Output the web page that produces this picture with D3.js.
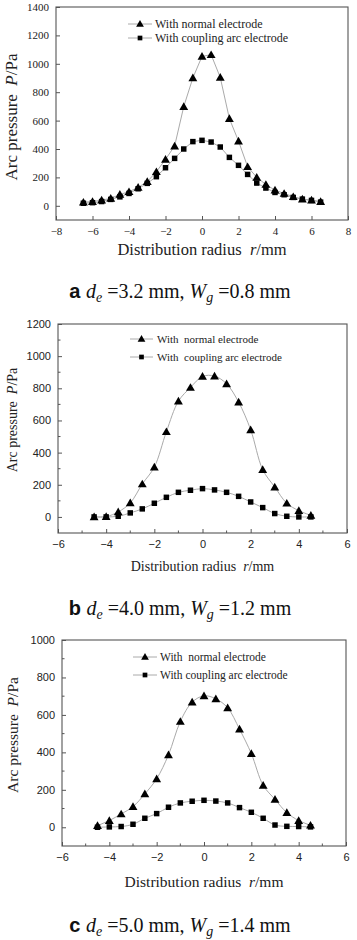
<!DOCTYPE html>
<html><head><meta charset="utf-8">
<script src="https://cdn.jsdelivr.net/npm/d3@7"></script>
<style>body{margin:0;background:#fff}svg{display:block}</style>
</head><body>
<svg id="c" width="357" height="940"></svg>
<script>
// ---- data ----
const radiusA = [-6.5,-6,-5.5,-5,-4.5,-4,-3.5,-3,-2.5,-2,-1.5,-1,-0.5,0,0.5,1,1.5,2,2.5,3,3.5,4,4.5,5,5.5,6,6.5];
const normalA = [25,30,40,52,80,99,130,170,240,327,421,699,901,1052,1064,904,614,456,275,200,150,110,87,64,47,40,30];
const couplingA = [18,22,30,45,63,87,120,158,205,268,334,400,452,461,449,414,341,285,221,160,125,94,78,59,47,38,26];

const radiusB = [-4.5,-4,-3.5,-3,-2.5,-2,-1.5,-1,-0.5,0,0.5,1,1.5,2,2.5,3,3.5,4,4.5];
const normalB = [0,2,31,87,205,310,530,720,805,874,876,828,714,542,294,186,85,39,10];
const couplingB = [0,0,4,25,50,85,122,153,166,176,168,153,128,93,58,21,4,0,0];

const radiusC = [-4.5,-4,-3.5,-3,-2.5,-2,-1.5,-1,-0.5,0,0.5,1,1.5,2,2.5,3,3.5,4,4.5];
const normalC = [9,36,71,110,178,259,387,565,668,702,686,638,524,393,224,149,78,36,11];
const couplingC = [0,2,4,16,48,73,107,130,139,144,140,130,105,80,48,12,5,4,2];

const xTicksA = [-8,-6,-4,-2,0,2,4,6,8];
const yTicksA = [0,200,400,600,800,1000,1200,1400];
const xTicksBC = [-6,-4,-2,0,2,4,6];
const yTicksB = [0,200,400,600,800,1000,1200];
const yTicksC = [0,200,400,600,800,1000];

const panels = [
  {x:radiusA, n:normalA, c:couplingA, xd:[-8,8], yd:[-100,1400], xt:xTicksA, yt:yTicksA,
   box:[56,7,348,220], tickFont:"'Liberation Serif',serif", tickSize:11, minor:false, curve:d3.curveLinear,
   legNames:["With normal electrode","With coupling arc electrode"], leg:{x1:128,x2:152,tx:155,y:[24,38],fs:12},
   ylab:{x:17,y:117,fs:17}, xlab:{y:255,fs:16.5}, cap:{y:298,letter:"a",de:"3.2",wg:"0.8"}},
  {x:radiusB, n:normalB, c:couplingB, xd:[-6,6], yd:[-100,1200], xt:xTicksBC, yt:yTicksB,
   box:[58,324,347,533], tickFont:"'Liberation Sans',Arial,sans-serif", tickSize:11, minor:true, curve:d3.curveCatmullRom,
   legNames:["With  normal electrode","With  coupling arc electrode"], leg:{x1:130,x2:153,tx:157,y:[339,357],fs:11},
   ylab:{x:17,y:420,fs:14}, xlab:{y:571,fs:14}, cap:{y:615,letter:"b",de:"4.0",wg:"1.2"}},
  {x:radiusC, n:normalC, c:couplingC, xd:[-6,6], yd:[-100,1000], xt:xTicksBC, yt:yTicksC,
   box:[62,640,346,846], tickFont:"'Liberation Sans',Arial,sans-serif", tickSize:11, minor:true, curve:d3.curveCatmullRom,
   legNames:["With  normal electrode","With coupling arc electrode"], leg:{x1:133,x2:157,tx:160,y:[657,675],fs:11.5},
   ylab:{x:18,y:735,fs:15.5}, xlab:{y:887,fs:15.5}, cap:{y:932,letter:"c",de:"5.0",wg:"1.4"}}
];

const svg = d3.select("#c");
const serif = "'Liberation Serif','Times New Roman',serif";
const lineCol = "#aaa", boxCol = "#555";

function tri(g, x, y, s){ // triangle marker
  g.append("path").attr("d", d3.symbol(d3.symbolTriangle, s)()).attr("transform",`translate(${x},${y})`).attr("fill","#000");
}
function sq(g, x, y, s){
  g.append("path").attr("d", d3.symbol(d3.symbolSquare, s)()).attr("transform",`translate(${x},${y})`).attr("fill","#000");
}

panels.forEach(p => {
  const [L,T,R,B] = p.box;
  const xs = d3.scaleLinear().domain(p.xd).range([L,R]);
  const ys = d3.scaleLinear().domain(p.yd).range([B,T]);
  const g = svg.append("g");

  // axes with inward ticks
  const xAx = g.append("g").attr("transform",`translate(0,${B})`)
    .call(d3.axisBottom(xs).tickValues(p.xt).tickSize(-4).tickPadding(7).tickFormat(d3.format("d")));
  const yAx = g.append("g").attr("transform",`translate(${L},0)`)
    .call(d3.axisLeft(ys).tickValues(p.yt).tickSize(-4).tickPadding(7).tickFormat(d3.format("d")));
  [xAx,yAx].forEach(a=>{
    a.select(".domain").remove();
    a.selectAll("line").attr("stroke",boxCol);
    a.selectAll("text").attr("font-family",p.tickFont).attr("font-size",p.tickSize).attr("fill","#222");
  });
  if (p.minor){
    const mx = p.xt.slice(0,-1).map((v,i)=>(v+p.xt[i+1])/2);
    const my = p.yt.map(v=>v+100).filter(v=>v<p.yd[1]).concat([-100+0]).filter(v=>v>p.yd[0]);
    g.selectAll(".mx").data(mx).enter().append("line")
      .attr("x1",d=>xs(d)).attr("x2",d=>xs(d)).attr("y1",B).attr("y2",B-2.5).attr("stroke",boxCol);
    g.selectAll(".my").data(my).enter().append("line")
      .attr("y1",d=>ys(d)).attr("y2",d=>ys(d)).attr("x1",L).attr("x2",L+2.5).attr("stroke",boxCol);
  }
  g.append("rect").attr("x",L).attr("y",T).attr("width",R-L).attr("height",B-T)
    .attr("fill","none").attr("stroke",boxCol).attr("stroke-width",1.1);

  const line = d3.line().x(d=>xs(d[0])).y(d=>ys(d[1])).curve(p.curve);
  const nd = p.x.map((v,i)=>[v,p.n[i]]), cd = p.x.map((v,i)=>[v,p.c[i]]);
  g.append("path").attr("d",line(nd)).attr("fill","none").attr("stroke",lineCol).attr("stroke-width",1);
  g.append("path").attr("d",line(cd)).attr("fill","none").attr("stroke",lineCol).attr("stroke-width",1);
  cd.forEach(d=>sq(g,xs(d[0]),ys(d[1]),30));
  nd.forEach(d=>tri(g,xs(d[0]),ys(d[1])+0.8,34));

  // legend
  const lg = p.leg;
  [0,1].forEach(i=>{
    g.append("line").attr("x1",lg.x1).attr("x2",lg.x2).attr("y1",lg.y[i]).attr("y2",lg.y[i]).attr("stroke",lineCol);
    if(i===0) tri(g,(lg.x1+lg.x2)/2,lg.y[i]+0.5,26); else sq(g,(lg.x1+lg.x2)/2,lg.y[i],22);
    g.append("text").attr("x",lg.tx).attr("y",lg.y[i]).attr("dy","0.35em")
      .attr("font-family",serif).attr("font-size",lg.fs).attr("fill","#222").style("white-space","pre").text(p.legNames[i]);
  });

  // axis titles
  const yl = g.append("text").attr("transform",`translate(${p.ylab.x},${p.ylab.y}) rotate(-90)`)
    .attr("text-anchor","middle").attr("font-family",serif).attr("font-size",p.ylab.fs).attr("fill","#222").style("white-space","pre");
  yl.append("tspan").text("Arc pressure  ");
  yl.append("tspan").attr("font-style","italic").text("P");
  yl.append("tspan").text("/Pa");
  const xl = g.append("text").attr("x",(L+R)/2).attr("y",p.xlab.y).attr("text-anchor","middle")
    .attr("font-family",serif).attr("font-size",p.xlab.fs).attr("fill","#222").style("white-space","pre");
  xl.append("tspan").text("Distribution radius  ");
  xl.append("tspan").attr("font-style","italic").text("r");
  xl.append("tspan").text("/mm");

  // caption
  const cap = g.append("text").attr("x",180).attr("y",p.cap.y).attr("text-anchor","middle")
    .attr("font-family",serif).attr("font-size",20).attr("fill","#111").style("white-space","pre");
  cap.append("tspan").attr("font-family","'Liberation Sans',Arial,sans-serif").attr("font-weight","bold").text(p.cap.letter+" ");
  cap.append("tspan").attr("font-style","italic").text("d");
  cap.append("tspan").attr("font-style","italic").attr("font-size",14).attr("dy",4).text("e");
  cap.append("tspan").attr("dy",-4).text(" =" + p.cap.de + " mm, ");
  cap.append("tspan").attr("font-style","italic").text("W");
  cap.append("tspan").attr("font-style","italic").attr("font-size",14).attr("dy",4).text("g");
  cap.append("tspan").attr("dy",-4).text(" =" + p.cap.wg + " mm");
});
</script>
</body></html>
